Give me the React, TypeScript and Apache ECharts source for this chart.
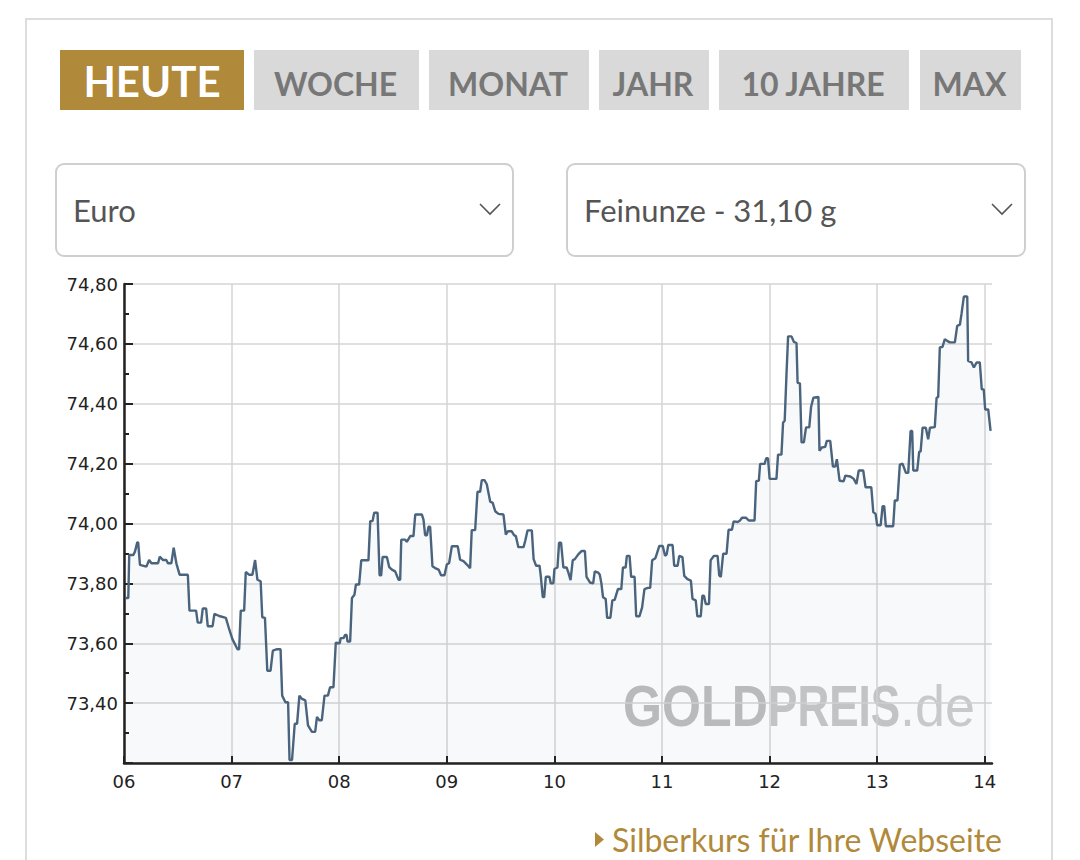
import React, { useEffect, useRef } from "react";
import * as echarts from "echarts";

// Minutes after 06:00 and the silver price (EUR per troy ounce)
const minutesAfterSix = [
  1.0, 2.4, 2.9, 5.2, 6.1, 7.4, 7.9, 8.9, 12.5, 14.0, 15.3, 19.0, 19.9, 21.8, 23.6, 24.5, 26.4, 27.7, 29.2, 31.0,
  35.6, 36.5, 40.2, 41.1, 43.0, 43.9, 45.8, 46.7, 49.4, 50.4, 53.1, 56.8, 58.7, 60.5, 63.3, 64.2, 65.1, 67.0, 67.9, 69.7,
  71.6, 73.1, 74.4, 76.2, 77.1, 78.6, 79.9, 81.7, 83.0, 85.4, 87.3, 88.2, 90.0, 91.5, 92.3, 93.7, 95.2, 96.5, 97.8, 99.3,
  101.1, 102.6, 104.8, 106.6, 107.6, 108.9, 110.3, 111.8, 113.7, 114.9, 116.8, 118.1,
  120.3, 120.8, 122.4, 123.3, 124.1, 124.6, 126.1, 127.1, 128.5, 129.3, 131.1, 132.3, 136.3, 137.3, 138.6, 139.5, 141.4,
  142.5, 143.4, 144.2, 146.6, 147.9, 149.4, 151.2, 153.1, 154.0, 154.6, 156.8, 157.7, 159.6, 161.4, 162.4, 166.1, 167.0,
  167.9, 168.9, 169.8, 170.7, 172.0, 173.5, 175.4, 176.8, 178.7, 180.0, 181.3, 182.8, 186.1, 187.4, 189.3, 191.2, 193.0,
  193.9, 195.8, 197.1, 198.6, 199.5, 201.0, 202.3, 204.2, 205.6, 207.0, 208.8, 211.6, 212.9, 214.0, 216.2, 217.5, 218.5,
  219.9, 221.0, 222.8, 223.8, 225.0, 227.4,
  228.4, 229.8, 231.7, 232.4, 233.5, 234.3, 235.2, 237.2, 238.0, 239.4, 240.0, 241.7, 242.6, 243.7, 245.0, 246.8, 247.8,
  249.0, 250.2, 251.4, 253.3, 255.1, 257.0, 257.9, 259.8, 261.6, 262.5, 264.4, 265.3, 266.2, 267.1, 268.6, 269.4, 271.2,
  272.3, 273.6, 275.4, 277.3, 278.2, 279.7, 280.4, 281.9, 282.8, 284.7, 285.6, 287.4, 288.9, 290.2, 292.1, 293.4, 294.5,
  296.3, 297.0, 298.5, 300.4, 301.7, 302.6, 303.5, 305.9, 306.8, 308.7, 309.6, 311.4, 312.4, 314.2, 316.1, 317.0, 318.8,
  319.7, 321.6, 322.5, 323.4, 324.4, 326.2, 327.1, 329.0, 331.0,
  331.9, 332.8, 334.1, 336.0, 337.1, 339.0, 339.9, 342.2, 343.5, 344.6, 346.9, 348.4, 351.6, 352.5, 354.0, 354.7, 357.2,
  358.1, 359.1, 360.0, 363.8, 364.7, 366.6, 367.5, 368.4, 369.4, 370.3, 372.2, 373.5, 375.0, 375.6, 376.9, 377.8, 379.1,
  380.3, 382.1, 383.1, 384.4, 387.2, 387.8, 389.1, 391.0, 391.9, 393.8, 395.3, 396.6, 397.5, 399.0, 401.3, 402.2, 405.0,
  406.9, 408.4, 409.7, 412.2, 413.5, 416.7, 417.8, 419.1, 420.0, 421.9,
  423.0, 423.9, 424.8, 428.9, 429.8, 431.3, 432.6, 434.1, 436.0, 437.3, 438.6, 439.5, 440.1, 442.3, 443.4, 444.2, 445.3,
  447.1, 448.4, 449.4, 452.1, 453.1, 454.0, 454.9, 456.4, 457.7, 459.0, 460.5, 463.3, 464.6, 466.1, 467.0, 468.3, 470.2,
  470.7, 472.6, 473.9, 475.4, 477.2, 478.3, 479.4, 480.2, 481.9, 483.2,
];

const prices = [
  73.751, 73.751, 73.895, 73.895, 73.906, 73.937, 73.937, 73.862, 73.856, 73.878, 73.867, 73.867, 73.889, 73.878, 73.878, 73.867, 73.867, 73.919, 73.867, 73.829,
  73.829, 73.709, 73.709, 73.669, 73.669, 73.716, 73.716, 73.657, 73.657, 73.698, 73.691, 73.685, 73.646, 73.613, 73.58, 73.58, 73.709, 73.709, 73.838, 73.829,
  73.829, 73.878, 73.812, 73.807, 73.687, 73.685, 73.508, 73.508, 73.575, 73.58, 73.58, 73.425, 73.403, 73.403, 73.21, 73.21, 73.331, 73.331, 73.425, 73.414,
  73.409, 73.326, 73.304, 73.304, 73.354, 73.343, 73.343, 73.425, 73.425, 73.453, 73.453, 73.602,
  73.6, 73.617, 73.617, 73.628, 73.628, 73.606, 73.606, 73.751, 73.762, 73.796, 73.796, 73.877, 73.877, 74.008, 74.008, 74.036, 74.036,
  73.827, 73.827, 73.888, 73.888, 73.854, 73.846, 73.84, 73.812, 73.812, 73.946, 73.946, 73.939, 73.958, 73.958, 74.03, 74.03, 74.013,
  73.961, 73.961, 73.989, 73.989, 73.857, 73.851, 73.846, 73.827, 73.827, 73.863, 73.868, 73.924, 73.924, 73.879, 73.874, 73.863, 73.851,
  73.978, 73.978, 74.106, 74.106, 74.145, 74.145, 74.131, 74.073, 74.069, 74.041, 74.032, 74.03, 73.963, 73.974, 73.974, 73.961, 73.958,
  73.921, 73.921, 73.921, 73.944, 73.977, 73.977,
  73.881, 73.859, 73.859, 73.825, 73.754, 73.754, 73.822, 73.822, 73.8, 73.8, 73.848, 73.853, 73.936, 73.936, 73.853, 73.853, 73.836,
  73.811, 73.877, 73.881, 73.897, 73.908, 73.908, 73.822, 73.803, 73.8, 73.84, 73.836, 73.829, 73.8, 73.754, 73.748, 73.685, 73.685,
  73.743, 73.745, 73.781, 73.781, 73.853, 73.853, 73.892, 73.892, 73.822, 73.822, 73.69, 73.69, 73.72, 73.781, 73.785, 73.785, 73.877,
  73.884, 73.897, 73.925, 73.925, 73.892, 73.897, 73.928, 73.928, 73.859, 73.859, 73.892, 73.888, 73.825, 73.814, 73.809, 73.748, 73.743,
  73.69, 73.69, 73.759, 73.759, 73.731, 73.731, 73.877, 73.892, 73.892,
  73.827, 73.822, 73.899, 73.899, 73.979, 73.979, 74.007, 74.005, 74.01, 74.019, 74.019, 74.01, 74.01, 74.141, 74.143, 74.199, 74.199,
  74.218, 74.218, 74.149, 74.149, 74.23, 74.23, 74.337, 74.343, 74.498, 74.625, 74.625, 74.607, 74.603, 74.47, 74.468, 74.271, 74.271,
  74.321, 74.321, 74.389, 74.42, 74.423, 74.243, 74.254, 74.256, 74.276, 74.276, 74.19, 74.19, 74.215, 74.143, 74.141, 74.16, 74.157,
  74.149, 74.132, 74.177, 74.177, 74.121, 74.121, 74.038, 74.032, 73.994, 73.994,
  74.058, 74.058, 73.991, 73.991, 74.077, 74.077, 74.197, 74.2, 74.169, 74.169, 74.309, 74.309, 74.177, 74.177, 74.24, 74.24, 74.32,
  74.32, 74.281, 74.32, 74.322, 74.42, 74.423, 74.588, 74.59, 74.616, 74.61, 74.605, 74.605, 74.66, 74.664, 74.7, 74.758, 74.758,
  74.543, 74.538, 74.521, 74.538, 74.538, 74.448, 74.448, 74.381, 74.381, 74.309,
];

const periodButtons = ["HEUTE", "WOCHE", "MONAT", "JAHR", "10 JAHRE", "MAX"];
const currencyLabel = "Euro";
const unitLabel = "Feinunze - 31,10 g";
const linkLabel = "Silberkurs für Ihre Webseite";
const hourTicks = [360, 420, 480, 540, 600, 660, 720, 780, 840];

const GOLD = "#b0893a";

export default function App() {
  const ref = useRef<HTMLDivElement>(null);

  useEffect(() => {
    if (!ref.current) return;
    const chart = echarts.init(ref.current, undefined, { renderer: "svg" });
    const data = minutesAfterSix.map((m, i) => [360 + m, prices[i]]);

    const btnBoxes = [
      [60, 244],
      [254, 419],
      [429, 589],
      [599, 709],
      [719, 909],
      [920, 1021],
    ];
    const buttons: any[] = [];
    periodButtons.forEach((label, i) => {
      const [x0, x1] = btnBoxes[i];
      const active = i === 0;
      buttons.push({
        type: "rect",
        shape: { x: x0, y: 50, width: x1 - x0, height: 60 },
        style: { fill: active ? GOLD : "#d9d9d9" },
      });
      buttons.push({
        type: "text",
        x: (x0 + x1) / 2 + (active ? 0 : -1),
        y: active ? 81 : 83,
        style: {
          text: label,
          fill: active ? "#ffffff" : "#777777",
          fontFamily: "Lato",
          fontWeight: "bold",
          fontSize: active ? 42 : 32,
          align: "center",
          verticalAlign: "middle",
          textAlign: "center",
          textVerticalAlign: "middle",
        },
      });
    });

    const dropdown = (x0: number, x1: number, label: string) => [
      {
        type: "rect",
        shape: { x: x0, y: 164, width: x1 - x0, height: 92, r: 8 },
        style: { fill: "#ffffff", stroke: "#cfcfcf", lineWidth: 2 },
      },
      {
        type: "text",
        x: x0 + 17,
        y: 210,
        style: {
          text: label,
          fill: "#555555",
          fontFamily: "Lato",
          fontSize: 31,
          align: "left",
          verticalAlign: "middle",
          textAlign: "left",
          textVerticalAlign: "middle",
        },
      },
      {
        type: "polyline",
        shape: { points: [[x1 - 33, 204], [x1 - 23, 214], [x1 - 13, 204]] },
        style: { stroke: "#555555", lineWidth: 1.6, fill: null },
      },
    ];

    const wmText = (x: number, text: string, fill: string, weight: string, sx: number) => ({
      type: "text",
      x,
      y: 706,
      scaleX: sx,
      z: -10,
      style: {
        text,
        fill,
        fontFamily: "Liberation Sans",
        fontWeight: weight,
        fontSize: 58,
        align: "left",
        verticalAlign: "middle",
        textAlign: "left",
        textVerticalAlign: "middle",
      },
    });

    chart.setOption({
      animation: false,
      backgroundColor: "#ffffff",
      grid: { left: 124, top: 284, right: 88, bottom: 97, containLabel: false, outerBoundsMode: "none" },
      xAxis: {
        type: "value",
        min: 360,
        max: 844,
        interval: 60,
        axisLine: { show: true, onZero: false, lineStyle: { color: "#222", width: 2.5 } },
        axisTick: { show: true, inside: true, length: 7, customValues: hourTicks, lineStyle: { color: "#222", width: 2 } },
        axisLabel: {
          show: true,
          customValues: hourTicks,
          margin: 9,
          color: "#222",
          fontFamily: "DejaVu Sans",
          fontSize: 18,
          formatter: (v: number) => (v % 60 === 0 ? String(v / 60).padStart(2, "0") : ""),
        },
        splitLine: { show: true, lineStyle: { color: "#d4d4d4", width: 1.5 } },
      },
      yAxis: {
        type: "value",
        min: 73.2,
        max: 74.8,
        interval: 0.2,
        axisLine: { show: true, lineStyle: { color: "#222", width: 2.5 } },
        axisTick: { show: true, inside: true, length: 9, lineStyle: { color: "#222", width: 2 } },
        minorTick: { show: true, splitNumber: 2, length: 5, lineStyle: { color: "#222", width: 2 } },
        axisLabel: {
          margin: 6,
          color: "#222",
          fontFamily: "DejaVu Sans",
          fontSize: 18,
          formatter: (v: number) => (v < 73.3 ? "" : v.toFixed(2).replace(".", ",")),
        },
        splitLine: { show: true, lineStyle: { color: "#d4d4d4", width: 1.5 } },
      },
      graphic: [
        {
          type: "rect",
          shape: { x: 26, y: 19, width: 1026, height: 900 },
          style: { fill: null, stroke: "#dddddd", lineWidth: 2 },
        },
        ...buttons,
        ...dropdown(56, 513, currencyLabel),
        ...dropdown(567, 1025, unitLabel),
        wmText(623, "GOLD", "#bebebe", "bold", 0.865),
        wmText(768, "PREIS", "#c7c7c7", "bold", 0.76),
        wmText(900, ".de", "#cecece", "normal", 0.93),
        {
          type: "polygon",
          shape: { points: [[595, 832], [604, 839.5], [595, 847]] },
          style: { fill: GOLD },
        },
        {
          type: "text",
          x: 612,
          y: 839,
          style: {
            text: linkLabel,
            fill: GOLD,
            fontFamily: "Lato",
            fontSize: 32,
            align: "left",
            verticalAlign: "middle",
            textAlign: "left",
            textVerticalAlign: "middle",
          },
        },
      ],
      series: [
        {
          type: "line",
          data,
          showSymbol: false,
          symbol: "none",
          lineStyle: { color: "#4a647e", width: 2.4 },
          areaStyle: { color: "rgba(60,90,130,0.056)" },
          z: 3,
        },
      ],
    });

    return () => chart.dispose();
  }, []);

  return (
    <div
      ref={ref}
      style={{ position: "absolute", left: 0, top: 0, width: 1080, height: 860 }}
    />
  );
}
